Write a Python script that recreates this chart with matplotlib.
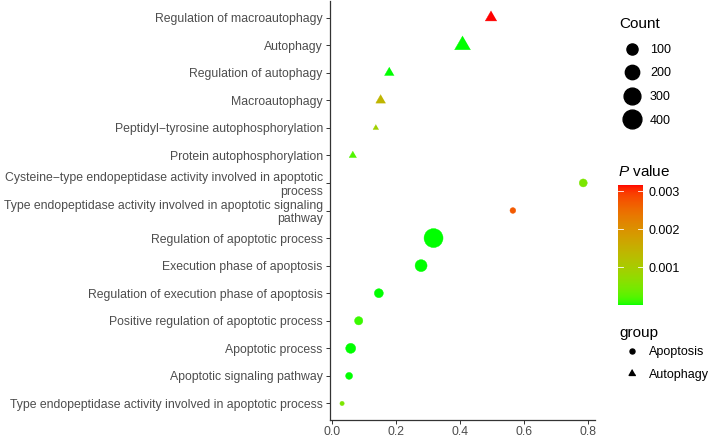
import numpy as np
import matplotlib
matplotlib.use("Agg")
import matplotlib.pyplot as plt
from matplotlib.colors import ListedColormap, Normalize
from matplotlib.lines import Line2D
from matplotlib.cm import ScalarMappable

plt.rcParams['font.family'] = ['Liberation Sans', 'DejaVu Sans']
plt.rcParams['mathtext.fontset'] = 'custom'
plt.rcParams['mathtext.it'] = 'Liberation Sans:italic'
plt.rcParams['mathtext.rm'] = 'Liberation Sans'

# ---------------- data ----------------
terms = [
    "Regulation of macroautophagy",
    "Autophagy",
    "Regulation of autophagy",
    "Macroautophagy",
    "Peptidyl\u2212tyrosine autophosphorylation",
    "Protein autophosphorylation",
    "Cysteine\u2212type endopeptidase activity involved in apoptotic\nprocess",
    "Type endopeptidase activity involved in apoptotic signaling\npathway",
    "Regulation of apoptotic process",
    "Execution phase of apoptosis",
    "Regulation of execution phase of apoptosis",
    "Positive regulation of apoptotic process",
    "Apoptotic process",
    "Apoptotic signaling pathway",
    "Type endopeptidase activity involved in apoptotic process",
]
groups = ["Autophagy"] * 6 + ["Apoptosis"] * 9
ratio = [0.496, 0.407, 0.178, 0.151, 0.136, 0.064,
         0.784, 0.564, 0.316, 0.277, 0.145, 0.082, 0.057, 0.052, 0.030]
count = [50, 120, 30, 32, 15, 18,
         40, 19, 410, 123, 55, 44, 74, 28, 15]
pvalue = [0.00316, 1e-6, 1e-6, 0.0014, 0.0009, 0.0002,
          0.0005, 0.0027, 1e-6, 1e-6, 1e-5, 0.0001, 1e-6, 1e-6, 0.0005]
count_breaks = [100, 200, 300, 400]
p_breaks = [0.001, 0.002, 0.003]
group_levels = ["Apoptosis", "Autophagy"]

# ---------------- colour scale (Lab interpolation green -> red) ----------------
def srgb_to_lab(rgb):
    rgb = np.asarray(rgb, float)
    lin = np.where(rgb <= 0.04045, rgb / 12.92, ((rgb + 0.055) / 1.055) ** 2.4)
    M = np.array([[0.4124, 0.3576, 0.1805],
                  [0.2126, 0.7152, 0.0722],
                  [0.0193, 0.1192, 0.9505]])
    xyz = M @ lin
    wp = np.array([0.95047, 1.0, 1.08883])
    t = xyz / wp
    f = np.where(t > (6 / 29) ** 3, np.cbrt(t), t / (3 * (6 / 29) ** 2) + 4 / 29)
    return np.array([116 * f[1] - 16, 500 * (f[0] - f[1]), 200 * (f[1] - f[2])])

def lab_to_srgb(lab):
    L, a, b = lab
    fy = (L + 16) / 116
    fx = fy + a / 500
    fz = fy - b / 200
    f = np.array([fx, fy, fz])
    t = np.where(f > 6 / 29, f ** 3, 3 * (6 / 29) ** 2 * (f - 4 / 29))
    xyz = t * np.array([0.95047, 1.0, 1.08883])
    Minv = np.array([[3.2406, -1.5372, -0.4986],
                     [-0.9689, 1.8758, 0.0415],
                     [0.0557, -0.2040, 1.0570]])
    lin = np.clip(Minv @ xyz, 0, 1)
    rgb = np.where(lin <= 0.0031308, 12.92 * lin, 1.055 * lin ** (1 / 2.4) - 0.055)
    return np.clip(rgb, 0, 1)

lab_lo = srgb_to_lab([0, 1, 0])
lab_hi = srgb_to_lab([1, 0, 0])
cols = [lab_to_srgb(lab_lo + (lab_hi - lab_lo) * t) for t in np.linspace(0, 1, 256)]
cmap = ListedColormap(cols)
norm = Normalize(vmin=min(pvalue), vmax=max(pvalue))

# ---------------- size scale ----------------
cmin, cmax = min(count), max(count)
def diam_pt(c):
    c = np.asarray(c, float)
    d_px = 4.3 + 14.7 * np.sqrt((c - cmin) / (cmax - cmin))
    return d_px * 0.72

tri = [(0, 1), (-np.sqrt(3) / 2, -0.5), (np.sqrt(3) / 2, -0.5)]
TRI_SCALE = 1.555

# ---------------- figure ----------------
W, H = 709, 437
fig = plt.figure(figsize=(W / 100, H / 100), dpi=100)
ax = fig.add_axes([330 / W, 17 / H, 265.3 / W, 419 / H])

ypos = np.arange(len(terms))
ratio_a = np.array(ratio)
count_a = np.array(count)
p_a = np.array(pvalue)
grp = np.array(groups)

for g, mk, scale in [("Apoptosis", "o", 1.0), ("Autophagy", tri, TRI_SCALE)]:
    m = grp == g
    ax.scatter(ratio_a[m], ypos[m], s=(diam_pt(count_a[m]) * scale) ** 2,
               c=p_a[m], cmap=cmap, norm=norm, marker=mk,
               edgecolors='face', linewidths=0.3, zorder=3)

ax.set_ylim(len(terms) - 1 + 0.6, -0.6)
xr = max(ratio) - min(ratio)
ax.set_xlim(min(ratio) - 0.05 * xr, max(ratio) + 0.05 * xr)
ax.set_xticks([0.0, 0.2, 0.4, 0.6, 0.8])
ax.set_xticklabels(["0.0", "0.2", "0.4", "0.6", "0.8"])
ax.set_yticks(ypos)
ax.set_yticklabels(terms, ha='right', multialignment='right', linespacing=1.15)

for s in ['top', 'right']:
    ax.spines[s].set_visible(False)
for s in ['left', 'bottom']:
    ax.spines[s].set_color('#333333')
    ax.spines[s].set_linewidth(0.9)
ax.tick_params(axis='both', colors='#333333', length=3, width=0.7,
               labelsize=8.85, labelcolor='#4D4D4D', pad=2.2)
ax.tick_params(axis='x', pad=1.2)

# ---------------- Count legend ----------------
fig.text(619 / W, 1 - 24 / H, "Count", fontsize=11, va='center', ha='left')
count_handles = [Line2D([], [], ls='none', marker='o', color='black',
                        markersize=float(diam_pt(c))) for c in count_breaks]
fig.legend(count_handles, [str(c) for c in count_breaks],
           loc='upper left', bbox_to_anchor=(620 / W, 1 - 44 / H),
           frameon=False, fontsize=9, borderpad=0, borderaxespad=0,
           handlelength=1.9, handletextpad=0.5, labelspacing=0.92)

# ---------------- colourbar ----------------
cax = fig.add_axes([618 / W, (H - 305) / H, 25 / W, 120 / H])
sm = ScalarMappable(norm=norm, cmap=cmap)
cb = fig.colorbar(sm, cax=cax, ticks=p_breaks)
cb.outline.set_visible(False)
cb.set_ticklabels([f"{t:.3f}" for t in p_breaks])
cax.tick_params(length=0, labelsize=9, pad=4, labelcolor='black')
for t in p_breaks:
    cax.plot([0, 0.2], [t, t], color='white', lw=0.6, transform=cax.get_yaxis_transform())
    cax.plot([0.8, 1.0], [t, t], color='white', lw=0.6, transform=cax.get_yaxis_transform())
fig.text(618 / W, 1 - 172 / H, r"$\it{P}$ value", fontsize=11, va='center', ha='left')

# ---------------- group legend ----------------
fig.text(619 / W, 1 - 333 / H, "group", fontsize=11, va='center', ha='left')
group_handles = [Line2D([], [], ls='none', marker='o', color='black', markersize=3.6),
                 Line2D([], [], ls='none', marker=tri, color='black', markersize=3.6 * TRI_SCALE)]
fig.legend(group_handles, group_levels,
           loc='upper left', bbox_to_anchor=(620 / W, 1 - 346 / H),
           frameon=False, fontsize=9, borderpad=0, borderaxespad=0,
           handlelength=1.9, handletextpad=0.4, labelspacing=0.86)

fig.savefig("out.png", dpi=100)
